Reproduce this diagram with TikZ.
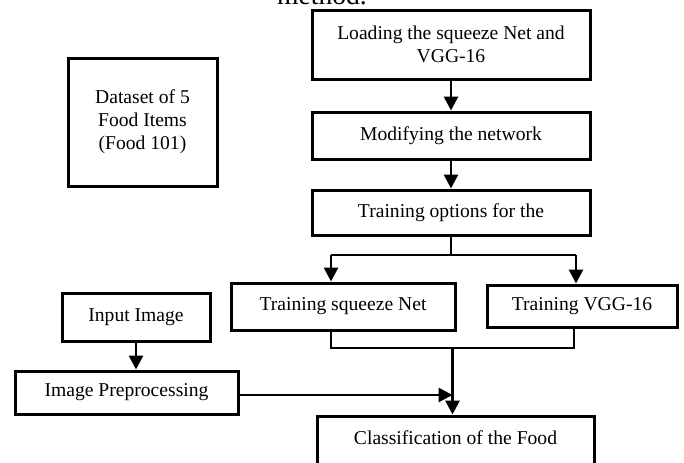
\documentclass[tikz,border=0pt]{standalone}
\usepackage{fontspec}
\setmainfont{Liberation Serif}
\usetikzlibrary{arrows.meta}

\begin{document}
\begin{tikzpicture}[x=0.5pt, y=-0.5pt,
        box/.style={draw, line width=1.5pt, inner sep=0pt, align=center,
                    font=\fontsize{9.8}{11.5}\selectfont},
        flow/.style={line width=1.4pt, -{Triangle[width=7pt,length=7pt]}},
        joinline/.style={line width=0.6pt}]
        \useasboundingbox (0,0) rectangle (684,462);

        \node[font=\fontsize{13.8}{16}\selectfont, anchor=base] (caption) at (322,4) {method.};

        \node[box, minimum width=139pt, minimum height=34.5pt]   (load)     at (451,44.5)   {Loading the squeeze Net and\\VGG-16};
        \node[box, minimum width=139pt, minimum height=23.5pt]   (modify)   at (451,135.5)  {Modifying the network};
        \node[box, minimum width=139pt, minimum height=22.5pt]   (options)  at (451,212.5)  {Training options for the};
        \node[box, minimum width=112pt, minimum height=23.5pt]   (squeeze)  at (343,306.5)  {Training squeeze Net};
        \node[box, minimum width=95pt, minimum height=21pt]      (vgg)      at (582,306)    {Training VGG-16};
        \node[box, minimum width=138.5pt, minimum height=33pt]   (classify) at (455.5,449)  {Classification of the Food\\\mbox{}};
        \node[box, minimum width=74.5pt, minimum height=64pt]    (dataset)  at (142.5,122)  {Dataset of 5\\Food Items\\(Food 101)};
        \node[box, minimum width=74pt, minimum height=24pt]      (input)    at (136,317)    {Input Image};
        \node[box, minimum width=111.5pt, minimum height=21.5pt] (prep)     at (126.5,392.5) {Image Preprocessing};

        \coordinate (split)  at (451,255);
        \coordinate (splitL) at (331,255);
        \coordinate (splitR) at (576,255);
        \coordinate (joinL)  at (331,348);
        \coordinate (joinR)  at (574,348);
        \coordinate (join)   at (452.5,348);
        \coordinate (merge)  at (452.5,395);

        \draw[flow] (load) -- (modify);
        \draw[flow] (modify) -- (options);
        \draw[joinline] (options.south) -- (split);
        \draw[joinline] (splitL) -- (splitR);
        \draw[flow] (splitL) -- (splitL |- squeeze.north);
        \draw[flow] (splitR) -- (splitR |- vgg.north);
        \draw[joinline] (joinL |- squeeze.south) -- (joinL) -- (joinR) -- (joinR |- vgg.south);
        \draw[flow] (join) -- (join |- classify.north);
        \draw[flow] (input.south) -- (input.south |- prep.north);
        \draw[flow] (prep.east |- merge) -- (merge);
    \end{tikzpicture}
\end{document}
